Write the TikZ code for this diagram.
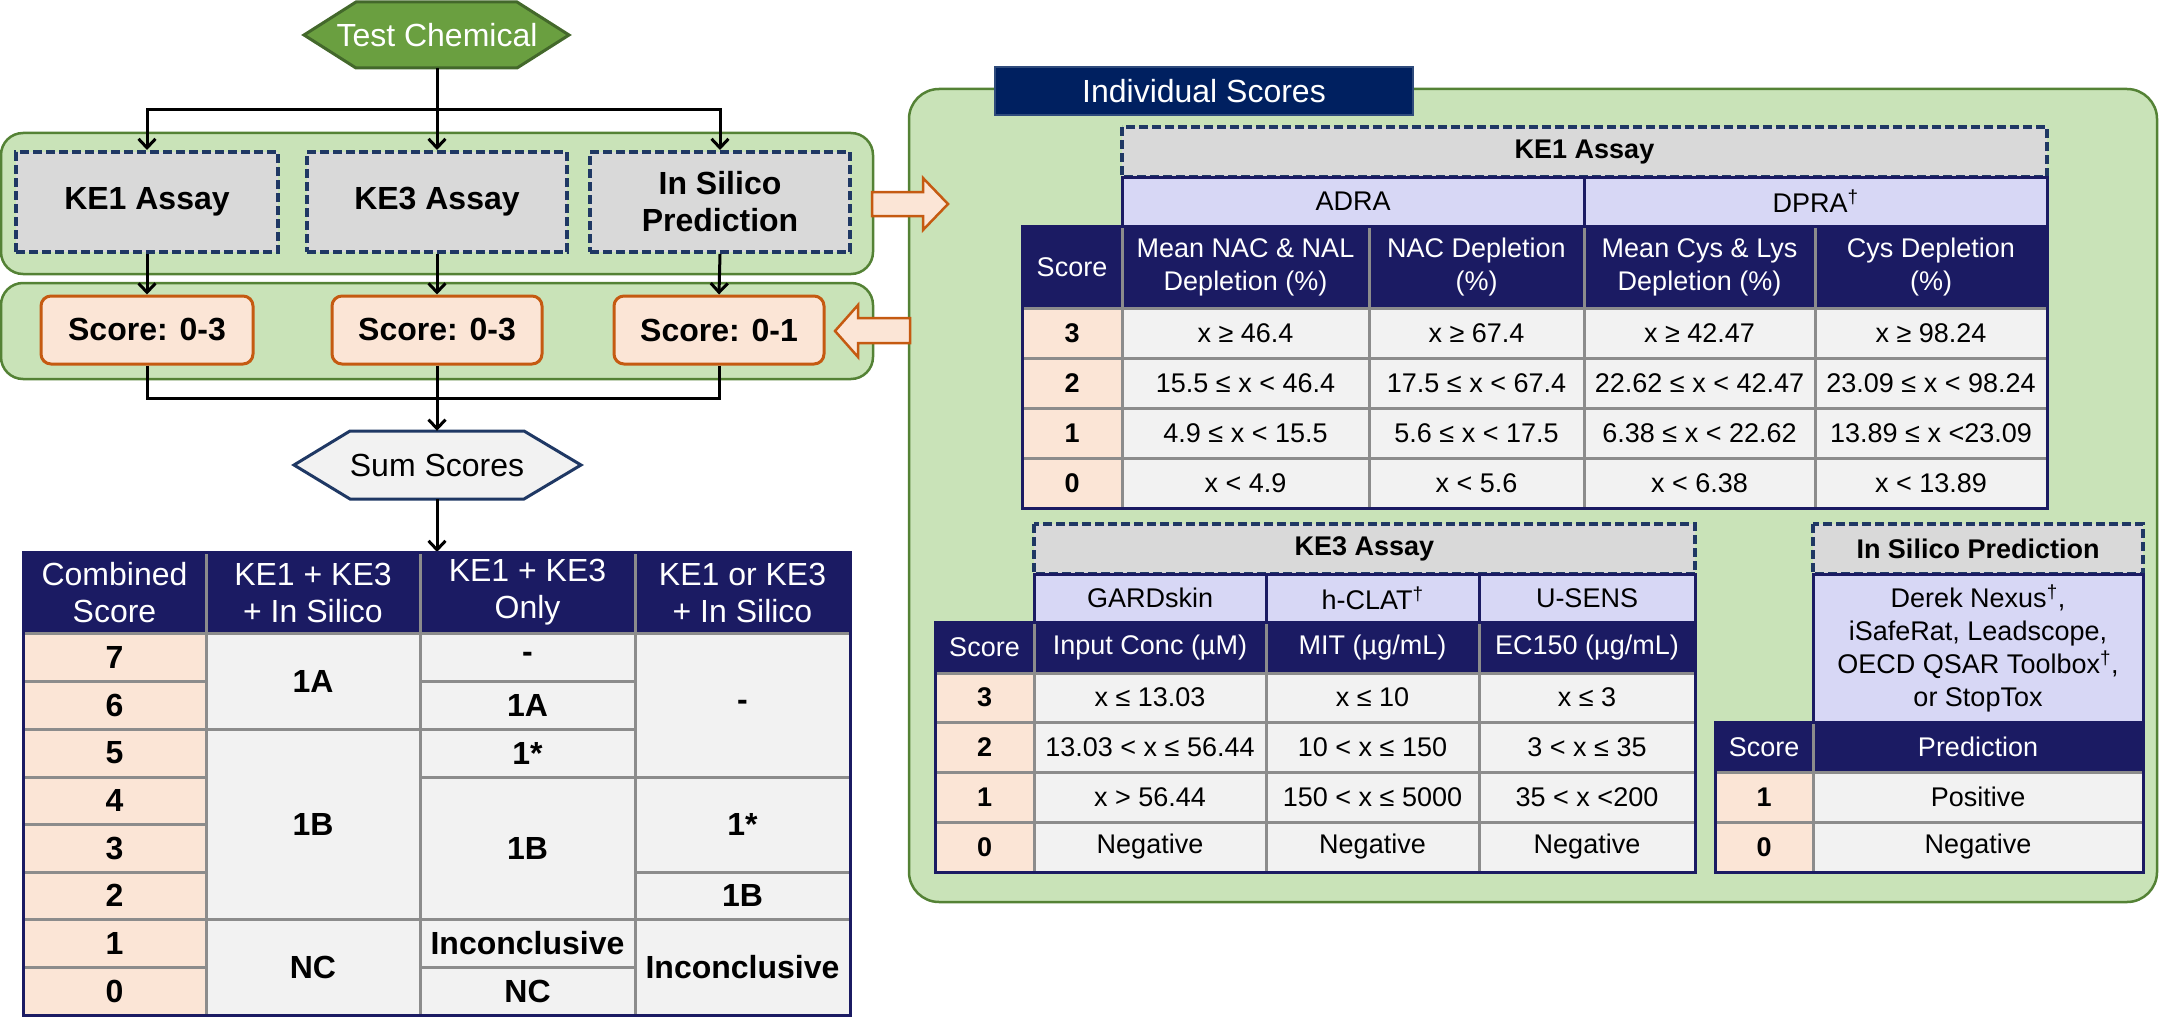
\documentclass[tikz,border=0pt]{standalone}
\usepackage{fontspec}
\setmainfont{Liberation Sans}
\usetikzlibrary{arrows.meta}
\definecolor{navyt}{HTML}{1B1B63}
\definecolor{navyb}{HTML}{002060}
\definecolor{navyl}{HTML}{2F4B7C}
\definecolor{dnavy}{HTML}{1F3864}
\definecolor{lav}{HTML}{D7D7F5}
\definecolor{peach}{HTML}{FBE5D6}
\definecolor{cellg}{HTML}{F2F2F2}
\definecolor{hdrg}{HTML}{D9D9D9}
\definecolor{gridg}{HTML}{8C8C8C}
\definecolor{pfill}{HTML}{C9E3B8}
\definecolor{pborder}{HTML}{548235}
\definecolor{tcfill}{HTML}{6A9F40}
\definecolor{tcborder}{HTML}{43682B}
\definecolor{orng}{HTML}{C55A11}
\newcommand\fsA{\fontsize{32}{37}\selectfont}
\newcommand\fsB{\fontsize{27}{33}\selectfont}
\newcommand\mycell[8]{\path[#6] (#2,#3) rectangle (#4,#5); \node[#7] (#1) at ({(#2+#4)/2},{(#3+#5)/2}) {#8};}
\tikzset{
  gc/.style={fill=cellg, draw=gridg, line width=3pt},
  pc/.style={fill=peach, draw=gridg, line width=3pt},
  nc/.style={fill=navyt, draw=gridg, line width=3pt},
  lc/.style={fill=lav, draw=navyt, line width=3pt},
  hc/.style={fill=hdrg, draw=dnavy, line width=3.5pt, dash pattern=on 9pt off 4pt},
  tA/.style={font=\fsA, align=center, inner sep=0pt},
  tAb/.style={font=\fsA\bfseries, align=center, inner sep=0pt},
  tAw/.style={font=\fsA, text=white, align=center, inner sep=0pt},
  tB/.style={font=\fsB, align=center, inner sep=0pt},
  tBb/.style={font=\fsB\bfseries, align=center, inner sep=0pt},
  tBw/.style={font=\fsB, text=white, align=center, inner sep=0pt},
  panel/.style={fill=pfill, draw=pborder, line width=2.5pt, rounded corners=22pt},
  conn/.style={line width=3pt, draw=black},
  arr/.style={conn, -{Straight Barb[length=9pt,width=17pt]}},
  blockarr/.style={fill=peach, draw=orng, line width=2.5pt, line join=miter},
  dbox/.style={fill=hdrg, draw=dnavy, line width=4pt, dash pattern=on 9pt off 4pt, minimum width=262pt, minimum height=100pt, font=\fsA\bfseries, align=center, inner sep=0pt},
  sbox/.style={fill=peach, draw=orng, line width=3pt, rounded corners=10pt, minimum width=212pt, minimum height=68pt, font=\fsA\bfseries, inner sep=0pt},
}
\begin{document}
\begin{tikzpicture}[x=1pt,y=-1pt]
\useasboundingbox (0,0) rectangle (2162,1030);

% ---------- left flowchart ----------
\path[panel] (1,133) rectangle (873,274);
\path[panel] (1,283) rectangle (873,379);
\path[panel, rounded corners=30pt] (909,89) rectangle (2157,902);

\draw[fill=tcfill, draw=tcborder, line width=3pt] (304,35) -- (356,2) -- (517,2) -- (569,35) -- (517,68) -- (356,68) -- cycle;
\node[tAw, minimum width=265pt, minimum height=66pt] (tc) at (437,35) {Test Chemical};

\node[dbox] (ke1) at (147,202) {KE1 Assay};
\node[dbox, minimum width=260pt] (ke3) at (437,202) {KE3 Assay};
\node[dbox, minimum width=260pt] (isp) at (720,202) {In Silico\\Prediction};

\node[sbox] (s1) at (147,330) {Score: 0-3};
\node[sbox, minimum width=210pt] (s2) at (437,330) {Score: 0-3};
\node[sbox, minimum width=210pt] (s3) at (719,330) {Score: 0-1};

\draw[fill=cellg, draw=dnavy, line width=3pt] (294,465) -- (350,431) -- (524,431) -- (581,465) -- (524,499) -- (350,499) -- cycle;
\node[tA, minimum width=287pt, minimum height=68pt] (ss) at (437,465) {Sum Scores};

\coordinate (br) at (437,110);
\coordinate (mg) at (437,398);
\coordinate (cttop) at (437,552);
\draw[arr] (tc.south) -- (ke3.north);
\draw[arr] (br) -| (ke1.north);
\draw[arr] (br) -| (isp.north);
\draw[arr] (ke1.south) -- (s1.north);
\draw[arr] (ke3.south) -- (s2.north);
\draw[arr] (isp.south) -- (s3.north);
\draw[conn] (s1.south) |- (mg);
\draw[conn] (s3.south) |- (mg);
\draw[arr] (s2.south) -- (ss.north);
\draw[arr] (ss.south) -- (cttop);

% block arrows
\draw[blockarr] (872,192) -- (923,192) -- (923,178) -- (948,204) -- (923,230) -- (923,216) -- (872,216) -- cycle;
\draw[blockarr] (910,318) -- (858,318) -- (858,305) -- (835,331) -- (858,357) -- (858,343) -- (910,343) -- cycle;

% ---------- combined table ----------
\mycell{ch1}{23}{552}{206}{633}{nc}{tAw}{Combined\\Score}
\mycell{ch2}{206}{552}{420}{633}{nc}{tAw}{KE1 + KE3\\+ In Silico}
\mycell{ch3}{420}{552}{635}{633}{nc}{tAw}{KE1 + KE3\\Only}
\mycell{ch4}{635}{552}{850}{633}{nc}{tAw}{KE1 or KE3\\+ In Silico}
\mycell{cs7}{23}{633}{206}{681}{pc}{tAb}{7}
\mycell{cs6}{23}{681}{206}{729}{pc}{tAb}{6}
\mycell{cs5}{23}{729}{206}{777}{pc}{tAb}{5}
\mycell{cs4}{23}{777}{206}{824}{pc}{tAb}{4}
\mycell{cs3}{23}{824}{206}{872}{pc}{tAb}{3}
\mycell{cs2}{23}{872}{206}{919}{pc}{tAb}{2}
\mycell{cs1}{23}{919}{206}{967}{pc}{tAb}{1}
\mycell{cs0}{23}{967}{206}{1015}{pc}{tAb}{0}
\mycell{ca1}{206}{633}{420}{729}{gc}{tAb}{1A}
\mycell{ca2}{206}{729}{420}{919}{gc}{tAb}{1B}
\mycell{ca3}{206}{919}{420}{1015}{gc}{tAb}{NC}
\mycell{cb1}{420}{633}{635}{681}{gc}{tAb}{-}
\mycell{cb2}{420}{681}{635}{729}{gc}{tAb}{1A}
\mycell{cb3}{420}{729}{635}{777}{gc}{tAb}{1*}
\mycell{cb4}{420}{777}{635}{919}{gc}{tAb}{1B}
\mycell{cb5}{420}{919}{635}{967}{gc}{tAb}{Inconclusive}
\mycell{cb6}{420}{967}{635}{1015}{gc}{tAb}{NC}
\mycell{cc1}{635}{633}{850}{777}{gc}{tAb}{-}
\mycell{cc2}{635}{777}{850}{872}{gc}{tAb}{1*}
\mycell{cc3}{635}{872}{850}{919}{gc}{tAb}{1B}
\mycell{cc4}{635}{919}{850}{1015}{gc}{tAb}{Inconclusive}
\draw[navyt, line width=3pt] (23,552) rectangle (850,1015);

% ---------- Individual Scores ----------
\node[fill=navyb, draw=navyl, line width=1.5pt, minimum width=418pt, minimum height=48pt, inner sep=0pt, font=\fsA, text=white] (indiv) at (1204,91) {Individual Scores};

% ---------- KE1 table ----------
\mycell{k1h}{1122}{127}{2047}{177}{hc}{tBb}{KE1 Assay}
\mycell{adra}{1122}{177}{1584}{226}{lc}{tB}{ADRA}
\mycell{dpra}{1584}{177}{2047}{226}{lc}{tB}{DPRA\textsuperscript{†}}
\mycell{k1s}{1022}{226}{1122}{308}{nc}{tBw}{Score}
\mycell{k1c1}{1122}{226}{1369}{308}{nc}{tBw}{Mean NAC \& NAL\\Depletion (\%)}
\mycell{k1c2}{1369}{226}{1584}{308}{nc}{tBw}{NAC Depletion\\(\%)}
\mycell{k1c3}{1584}{226}{1815}{308}{nc}{tBw}{Mean Cys \& Lys\\Depletion (\%)}
\mycell{k1c4}{1815}{226}{2047}{308}{nc}{tBw}{Cys Depletion\\(\%)}
\mycell{k1r3s}{1022}{308}{1122}{358}{pc}{tBb}{3}
\mycell{k1r3a}{1122}{308}{1369}{358}{gc}{tB}{x ≥ 46.4}
\mycell{k1r3b}{1369}{308}{1584}{358}{gc}{tB}{x ≥ 67.4}
\mycell{k1r3c}{1584}{308}{1815}{358}{gc}{tB}{x ≥ 42.47}
\mycell{k1r3d}{1815}{308}{2047}{358}{gc}{tB}{x ≥ 98.24}
\mycell{k1r2s}{1022}{358}{1122}{408}{pc}{tBb}{2}
\mycell{k1r2a}{1122}{358}{1369}{408}{gc}{tB}{15.5 ≤ x < 46.4}
\mycell{k1r2b}{1369}{358}{1584}{408}{gc}{tB}{17.5 ≤ x < 67.4}
\mycell{k1r2c}{1584}{358}{1815}{408}{gc}{tB}{22.62 ≤ x < 42.47}
\mycell{k1r2d}{1815}{358}{2047}{408}{gc}{tB}{23.09 ≤ x < 98.24}
\mycell{k1r1s}{1022}{408}{1122}{458}{pc}{tBb}{1}
\mycell{k1r1a}{1122}{408}{1369}{458}{gc}{tB}{4.9 ≤ x < 15.5}
\mycell{k1r1b}{1369}{408}{1584}{458}{gc}{tB}{5.6 ≤ x < 17.5}
\mycell{k1r1c}{1584}{408}{1815}{458}{gc}{tB}{6.38 ≤ x < 22.62}
\mycell{k1r1d}{1815}{408}{2047}{458}{gc}{tB}{13.89 ≤ x <23.09}
\mycell{k1r0s}{1022}{458}{1122}{508}{pc}{tBb}{0}
\mycell{k1r0a}{1122}{458}{1369}{508}{gc}{tB}{x < 4.9}
\mycell{k1r0b}{1369}{458}{1584}{508}{gc}{tB}{x < 5.6}
\mycell{k1r0c}{1584}{458}{1815}{508}{gc}{tB}{x < 6.38}
\mycell{k1r0d}{1815}{458}{2047}{508}{gc}{tB}{x < 13.89}
\draw[navyt, line width=3pt] (1022,226) rectangle (2047,508);

% ---------- KE3 table ----------
\mycell{k3h}{1034}{524}{1695}{574}{hc}{tBb}{KE3 Assay}
\mycell{gard}{1034}{574}{1266}{622}{lc}{tB}{GARDskin}
\mycell{hclat}{1266}{574}{1479}{622}{lc}{tB}{h-CLAT\textsuperscript{†}}
\mycell{usens}{1479}{574}{1695}{622}{lc}{tB}{U-SENS}
\mycell{k3s}{935}{622}{1034}{673}{nc}{tBw}{Score}
\mycell{k3c1}{1034}{622}{1266}{673}{nc}{tBw}{Input Conc (µM)}
\mycell{k3c2}{1266}{622}{1479}{673}{nc}{tBw}{MIT (µg/mL)}
\mycell{k3c3}{1479}{622}{1695}{673}{nc}{tBw}{EC150 (µg/mL)}
\mycell{k3r3s}{935}{673}{1034}{722}{pc}{tBb}{3}
\mycell{k3r3a}{1034}{673}{1266}{722}{gc}{tB}{x ≤ 13.03}
\mycell{k3r3b}{1266}{673}{1479}{722}{gc}{tB}{x ≤ 10}
\mycell{k3r3c}{1479}{673}{1695}{722}{gc}{tB}{x ≤ 3}
\mycell{k3r2s}{935}{722}{1034}{772}{pc}{tBb}{2}
\mycell{k3r2a}{1034}{722}{1266}{772}{gc}{tB}{13.03 < x ≤ 56.44}
\mycell{k3r2b}{1266}{722}{1479}{772}{gc}{tB}{10 < x ≤ 150}
\mycell{k3r2c}{1479}{722}{1695}{772}{gc}{tB}{3 < x ≤ 35}
\mycell{k3r1s}{935}{772}{1034}{822}{pc}{tBb}{1}
\mycell{k3r1a}{1034}{772}{1266}{822}{gc}{tB}{x > 56.44}
\mycell{k3r1b}{1266}{772}{1479}{822}{gc}{tB}{150 < x ≤ 5000}
\mycell{k3r1c}{1479}{772}{1695}{822}{gc}{tB}{35 < x <200}
\mycell{k3r0s}{935}{822}{1034}{872}{pc}{tBb}{0}
\mycell{k3r0a}{1034}{822}{1266}{872}{gc}{tB}{Negative}
\mycell{k3r0b}{1266}{822}{1479}{872}{gc}{tB}{Negative}
\mycell{k3r0c}{1479}{822}{1695}{872}{gc}{tB}{Negative}
\draw[navyt, line width=3pt] (935,622) rectangle (1695,872);

% ---------- In Silico table ----------
\mycell{ish}{1813}{524}{2143}{574}{hc}{tBb}{In Silico Prediction}
\mycell{isl}{1813}{574}{2143}{722}{lc}{tB}{Derek Nexus\textsuperscript{†},\\iSafeRat, Leadscope,\\OECD QSAR Toolbox\textsuperscript{†},\\or StopTox}
\mycell{iss}{1715}{722}{1813}{772}{nc}{tBw}{Score}
\mycell{isp2}{1813}{722}{2143}{772}{nc}{tBw}{Prediction}
\mycell{isr1s}{1715}{772}{1813}{822}{pc}{tBb}{1}
\mycell{isr1}{1813}{772}{2143}{822}{gc}{tB}{Positive}
\mycell{isr0s}{1715}{822}{1813}{872}{pc}{tBb}{0}
\mycell{isr0}{1813}{822}{2143}{872}{gc}{tB}{Negative}
\draw[navyt, line width=3pt] (1715,722) rectangle (2143,872);
\end{tikzpicture}
\end{document}
